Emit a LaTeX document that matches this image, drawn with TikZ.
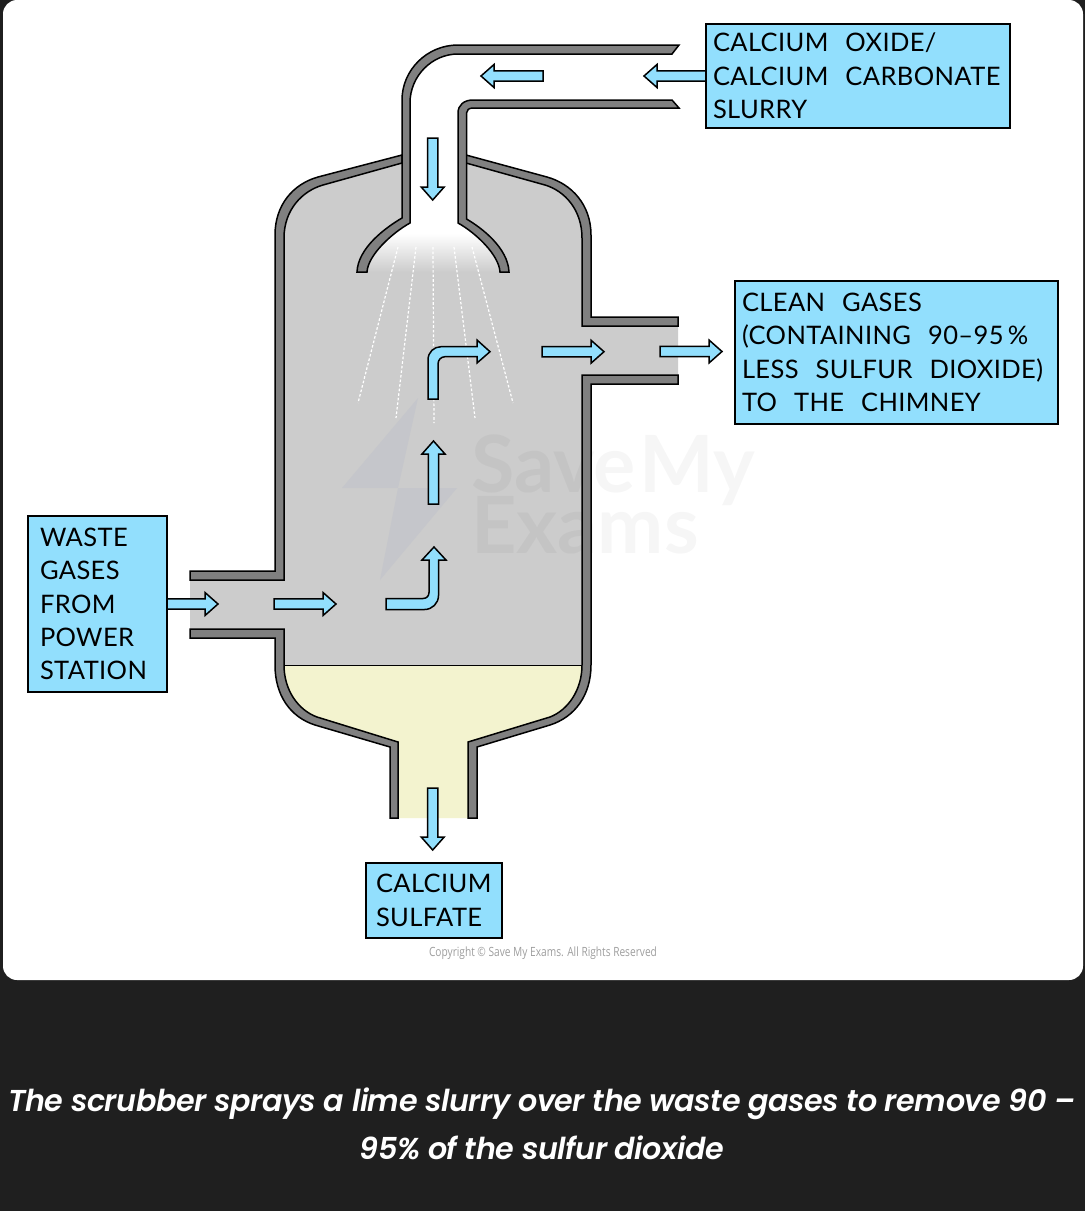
\documentclass[tikz,border=0pt]{standalone}
\usepackage{fontspec}
\usepackage{tikz}
\setmainfont{Lato}
\newfontfamily\boxfont{Lato}[LetterSpace=1.5]
\newfontfamily\capfont{Poppins SemiBold}[ItalicFont={Poppins SemiBold Italic},LetterSpace=-1.5]
\newfontfamily\notefont{Open Sans}[FakeStretch=0.8]
\newcommand{\wordgap}{\hspace{17pt}}
\definecolor{pagedark}{HTML}{1F1F1F}
\definecolor{gasgray}{HTML}{CCCCCC}
\definecolor{wallgray}{HTML}{808080}
\definecolor{flowblue}{HTML}{92DFFD}
\definecolor{sludgecream}{HTML}{F3F3CF}
\definecolor{boltgray}{HTML}{C5C6CB}
\tikzset{
  wall/.style={draw=black, fill=wallgray, line width=1.5pt},
  flowshape/.style={draw=black, fill=flowblue, line width=1.5pt},
  spray/.style={draw=white, line width=1.2pt, dash pattern=on 2.6pt off 2pt},
  labelbox/.style={draw=black, fill=flowblue, line width=1.5pt, outer sep=0pt, anchor=north west, inner xsep=7pt, inner ysep=0pt, align=left, font=\boxfont\fontsize{25.5}{33.4}\selectfont},
  markfaint/.style={anchor=west, inner sep=0pt, text opacity=0.035, font=\bfseries\fontsize{79}{79}\selectfont}
}
% x, y, length, rotation
\newcommand{\flowarrow}[4]{\draw[flowshape, shift={(#1,#2)}, rotate=#4] (0,-5.2) -- (#3-13,-5.2) -- (#3-13,-11.5) -- (#3,0) -- (#3-13,11.5) -- (#3-13,5.2) -- (0,5.2) -- cycle;}
\begin{document}
\begin{tikzpicture}[x=1pt, y=-1pt]
            \useasboundingbox (0,0) rectangle (1085,1211);
            % Page
            \fill[pagedark] (0,0) rectangle (1085,1211);
            \fill[white, rounded corners=14pt] (3,0) rectangle (1083,980);

            % Vessel contents
            \fill[gasgray] (190,575) -- (280,575) -- (280,235) .. controls (280,207) and (296,188) .. (320,181) -- (402,159) -- (466,159) -- (545,181) .. controls (570,188) and (587,207) .. (587,235) -- (587,320) -- (678,320) -- (678,380) -- (587,380) -- (587,665) -- (280,665) -- (280,634) -- (190,634) -- cycle;
            \fill[sludgecream] (280,665) .. controls (280,692) and (294,713) .. (316,721) -- (394,745) -- (394,818) -- (472,818) -- (472,745) -- (550,721) .. controls (572,713) and (587,692) .. (587,665) -- cycle;
            \draw[line width=1.5pt] (284,665.5) -- (582,665.5);

            % Watermark
            \fill[boltgray] (418,398) -- (342,488) -- (398,488) -- cycle;
            \fill[boltgray] (398,488) -- (457,488) -- (380,580) -- cycle;
            \node[markfaint] (saveMark) at (471,470) {Save\kern4pt My};
            \node[markfaint] (examsMark) at (471,525) {Exams};

            % Nozzle inside
            \begin{scope}
              \clip (410,150) -- (410,223) .. controls (392,233) and (368,255) .. (367,272) -- (500,272) .. controls (499,255) and (476,233) .. (458,223) -- (458,150) -- cycle;
              \fill[white] (360,150) rectangle (505,234);
              \shade[top color=white, bottom color=gasgray] (360,233.5) rectangle (505,272);
            \end{scope}

            % Spray
            \draw[spray] (398,247) -- (358,403);
            \draw[spray] (416,247) -- (396,418);
            \draw[spray] (433,247) -- (434,423);
            \draw[spray] (454,247) -- (475,418);
            \draw[spray] (472,247) -- (513,403);

            % Walls
            \draw[wall] (402,155) -- (318,177) .. controls (293,184) and (275,205) .. (275,235) -- (275,571) -- (190,571) -- (190,580) -- (284,580) -- (284,238) .. controls (284,210) and (302,191) .. (323,185) -- (402,163) -- cycle;
            \draw[wall] (466,155) -- (547,177) .. controls (572,184) and (591,205) .. (591,235) -- (591,317) -- (678,317) -- (678,326) -- (582,326) -- (582,238) .. controls (582,210) and (565,191) .. (545,185) -- (466,163) -- cycle;
            \draw[wall] (190,629) -- (284,629) -- (284,665) .. controls (284,690) and (298,710) .. (317,717) -- (398,742) -- (398,818) -- (390,818) -- (390,747) -- (315,725) .. controls (290,717) and (275,695) .. (275,665) -- (275,638) -- (190,638) -- cycle;
            \draw[wall] (678,375) -- (582,375) -- (582,665) .. controls (582,690) and (568,710) .. (550,717) -- (468,742) -- (468,818) -- (477,818) -- (477,747) -- (550,725) .. controls (575,717) and (591,695) .. (591,665) -- (591,384) -- (678,384) -- cycle;
            \draw[wall] (679,45) -- (458,45) .. controls (427,45) and (402,70) .. (402,100) -- (402,218) .. controls (385,228) and (358,248) .. (357,272) -- (367,272) .. controls (368,255) and (392,233) .. (410,223) -- (410,103) .. controls (410,76) and (432,54) .. (458,54) -- (672,54) -- cycle;
            \draw[wall] (672,100) -- (473,100) .. controls (464,100) and (458,105) .. (458,113) -- (458,223) .. controls (476,233) and (499,255) .. (500,272) -- (509,272) .. controls (508,248) and (482,228) .. (466.5,219) -- (466.5,113) .. controls (466.5,110) and (469,108) .. (473,108) -- (679,108) -- cycle;

            % Flow arrows
            \flowarrow{706}{76}{62}{180}
            \flowarrow{543}{76}{62}{180}
            \flowarrow{432.7}{138}{62}{-90}
            \flowarrow{542}{351.7}{62}{0}
            \flowarrow{660}{351.5}{62}{0}
            \flowarrow{433.5}{504}{63}{90}
            \flowarrow{167}{604}{51}{0}
            \flowarrow{274}{604}{62}{0}
            \flowarrow{432.7}{788}{62}{-90}
            \draw[flowshape] (386,598.5) -- (423,598.5) .. controls (426.5,598.5) and (429,596) .. (429,592.5) -- (429,560) -- (422,560) -- (434,547) -- (446,560) -- (438.5,560) -- (438.5,595.5) .. controls (438.5,603.5) and (432,609.5) .. (424.5,609.5) -- (386,609.5) -- cycle;
            \draw[flowshape] (428,399) -- (428,360) .. controls (428,352) and (434,346.7) .. (441,346.7) -- (477,346.7) -- (477,340) -- (490,351.7) -- (477,363) -- (477,356.7) -- (445,356.7) .. controls (441,356.7) and (438,360) .. (438,364) -- (438,399) -- cycle;

            % Nodes
            \node[labelbox, minimum width=304pt, minimum height=104pt, text width=290pt] (slurryBox) at (706,24) {CALCIUM\wordgap OXIDE/\\CALCIUM\wordgap CARBONATE\\SLURRY};
            \node[labelbox, minimum width=323pt, minimum height=143pt, text width=309pt] (cleanBox) at (735,281) {CLEAN\wordgap GASES\\(CONTAINING\wordgap 90–95\,\%\\LESS\wordgap SULFUR\wordgap DIOXIDE)\\TO\wordgap THE\wordgap CHIMNEY};
            \node[labelbox, minimum width=139pt, minimum height=176pt, text width=115pt, inner xsep=12pt] (wasteBox) at (28,516) {WASTE\\GASES\\FROM\\POWER\\STATION};
            \node[labelbox, minimum width=136pt, minimum height=75pt, text width=116pt, inner xsep=10pt] (sulfateBox) at (366,863) {CALCIUM\\SULFATE};

            % Text
            \node[text=black!38, font=\notefont\fontsize{12.7}{14}\selectfont] (copyNote) at (543,953) {Copyright © Save My Exams. All Rights Reserved};
            \node[text=white, align=center, font=\capfont\itshape\fontsize{30.2}{48}\selectfont] (captionText) at (542,1124) {The scrubber sprays a lime slurry over the waste gases to remove 90 –\\95\% of the sulfur dioxide};
        \end{tikzpicture}
\end{document}
